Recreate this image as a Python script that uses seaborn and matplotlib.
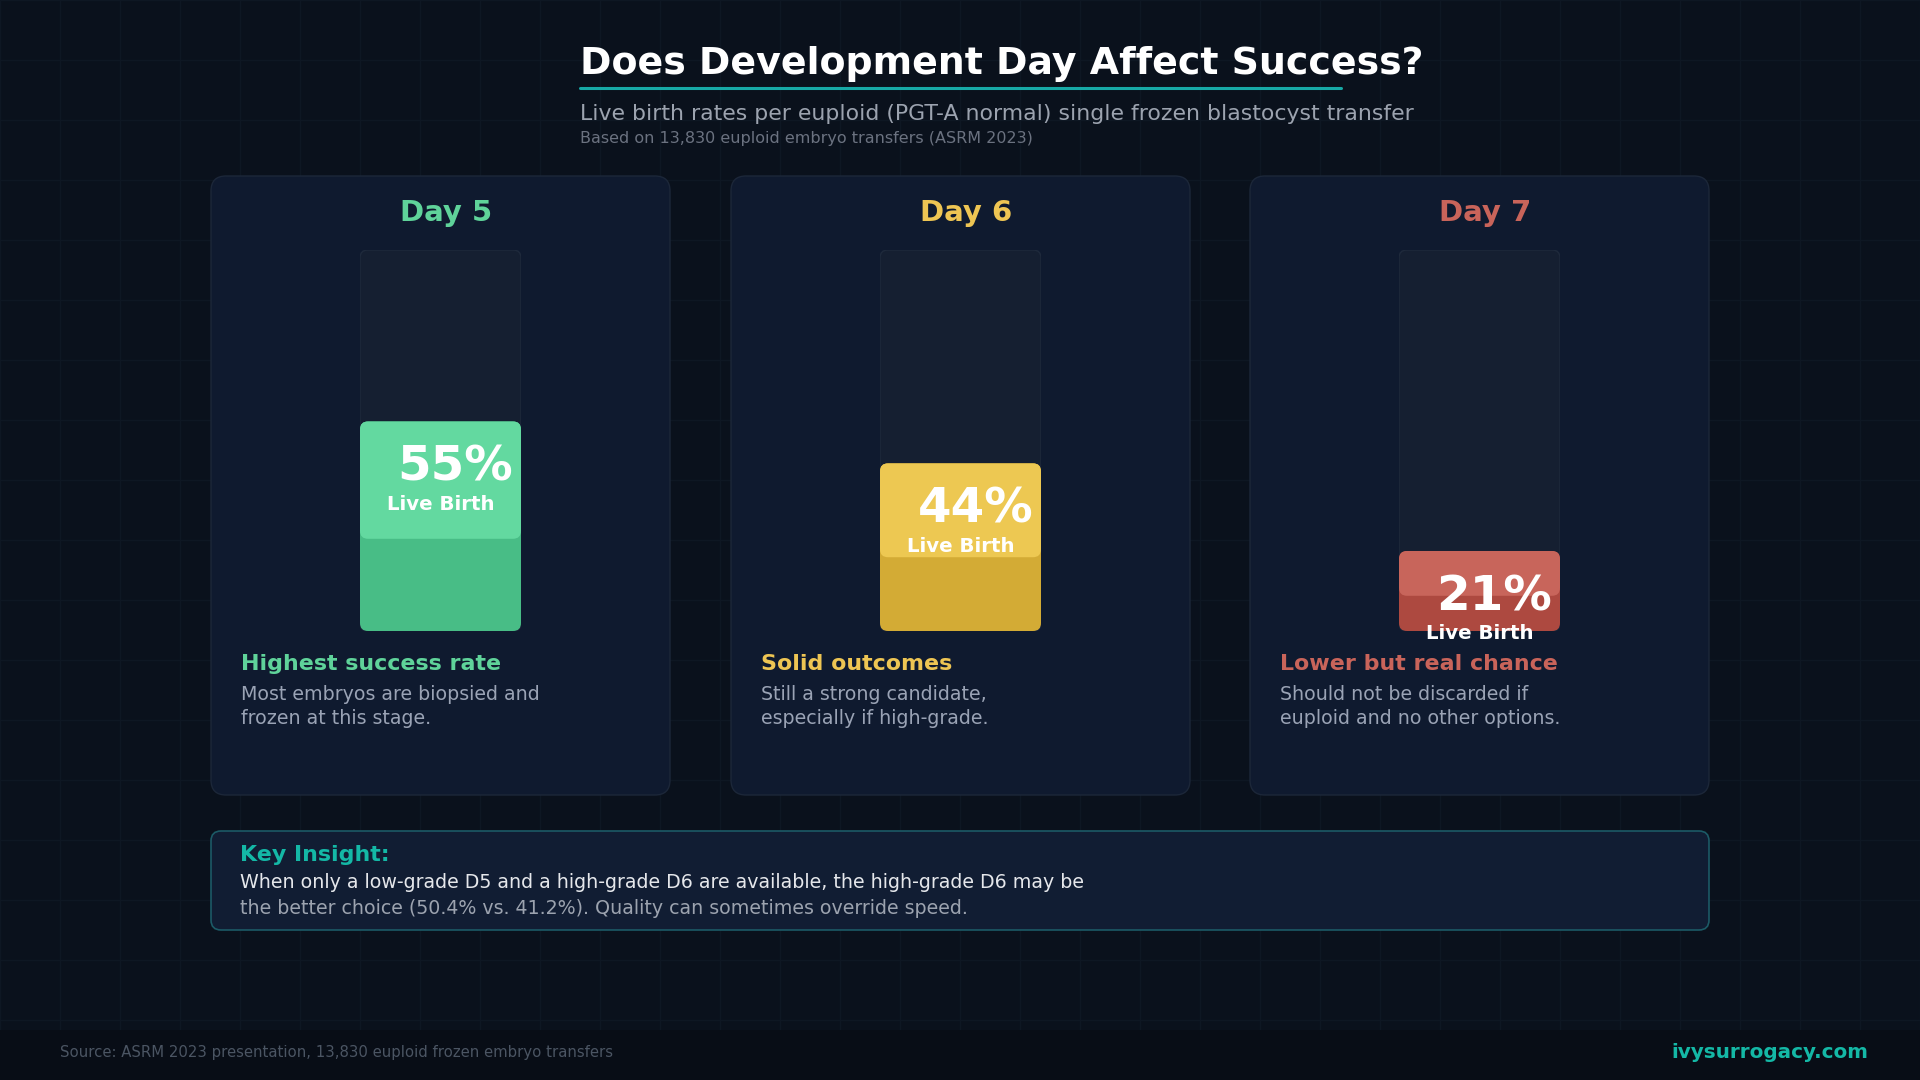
# -*- coding: utf-8 -*-
"""Live birth rate by blastocyst development day - dark card layout."""
import matplotlib
matplotlib.use("Agg")
import matplotlib.pyplot as plt
from matplotlib.patches import FancyBboxPatch, Rectangle
import seaborn as sns

sns.set_theme(style="white")
plt.rcParams["font.family"] = ["DejaVu Sans"]

# ---------- data ----------
days = ["Day 5", "Day 6", "Day 7"]
rates = [55, 44, 21]
headlines = ["Highest success rate", "Solid outcomes", "Lower but real chance"]
descriptions = [
    ["Most embryos are biopsied and", "frozen at this stage."],
    ["Still a strong candidate,", "especially if high-grade."],
    ["Should not be discarded if", "euploid and no other options."],
]
title = "Does Development Day Affect Success?"
subtitle = "Live birth rates per euploid (PGT-A normal) single frozen blastocyst transfer"
note = "Based on 13,830 euploid embryo transfers (ASRM 2023)"
insight_head = "Key Insight:"
insight_lines = [
    "When only a low-grade D5 and a high-grade D6 are available, the high-grade D6 may be",
    "the better choice (50.4% vs. 41.2%). Quality can sometimes override speed.",
]
source = "Source: ASRM 2023 presentation, 13,830 euploid frozen embryo transfers"
brand = "ivysurrogacy.com"

# ---------- style ----------
BG = "#0a111c"
GRID = "#0e1723"
CARD = "#0f1a2f"
CARD_EDGE = "#1c2739"
TRACK = "#151f31"
TRACK_EDGE = "#1f2a3c"
TEAL = "#14b8a6"
light_cols = ["#63d9a0", "#edc852", "#c8655b"]
dark_cols = ["#48bd86", "#d3ab35", "#ad4940"]
title_cols = ["#5fd39a", "#eec553", "#c9645a"]
LIGHT_FRAC = 0.56

W, H = 1920, 1080
fig = plt.figure(figsize=(19.2, 10.8), dpi=100, facecolor=BG)
bg = fig.add_axes([0, 0, 1, 1])
bg.set_xlim(0, W); bg.set_ylim(H, 0); bg.axis("off")
bg.set_facecolor(BG)

# background grid + footer band
for gx in range(0, W + 1, 60):
    bg.plot([gx, gx], [0, 1030], color=GRID, lw=1, zorder=0)
for gy in range(0, 1031, 60):
    bg.plot([0, W], [gy, gy], color=GRID, lw=1, zorder=0)
bg.add_patch(Rectangle((0, 1030), W, 50, facecolor="#080d16", edgecolor="none", zorder=1))

# header
bg.text(580, 64, title, fontsize=27.3, fontweight="bold", color="white", va="center", ha="left")
bg.plot([580, 1341], [88, 88], color="#17a9a6", lw=2.2, solid_capstyle="round")
bg.text(580, 114, subtitle, fontsize=15.8, color="#9ca3af", va="center", ha="left")
bg.text(580, 138, note, fontsize=11.5, color="#6b7280", va="center", ha="left")


def round_bars(ax, rad_px, start=0, edge=None):
    """swap the rectangular bars of ax (from index start) for rounded ones"""
    bb = ax.get_window_extent()
    x0, x1 = ax.get_xlim(); y0, y1 = ax.get_ylim()
    px_x = bb.width / (x1 - x0)
    px_y = bb.height / (y1 - y0)
    for p in list(ax.patches[start:]):
        if not isinstance(p, Rectangle):
            continue
        x, y, w, h = p.get_x(), p.get_y(), p.get_width(), p.get_height()
        fc, z = p.get_facecolor(), p.get_zorder()
        p.remove()
        ax.add_patch(FancyBboxPatch(
            (x, y), w, h,
            boxstyle=f"round,pad=0,rounding_size={rad_px / px_x}",
            mutation_aspect=px_x / px_y,
            facecolor=fc, edgecolor=edge if edge else "none", lw=1, zorder=z))


card_x = [211, 731, 1250]
card_w, card_top, card_bot = 459, 176, 795
track_dx, track_w, track_top, track_bot = 149, 161, 250, 631

for i, day in enumerate(days):
    cx = card_x[i]
    bg.add_patch(FancyBboxPatch((cx, card_top), card_w, card_bot - card_top,
                                boxstyle="round,pad=0,rounding_size=15",
                                facecolor=CARD, edgecolor=CARD_EDGE, lw=1, zorder=2))
    bg.text(cx + card_w / 2 + 6, 213, day, fontsize=21, fontweight="bold",
            color=title_cols[i], ha="center", va="center", zorder=3)
    bg.text(cx + 30, 664, headlines[i], fontsize=15.9, fontweight="bold",
            color=title_cols[i], ha="left", va="center", zorder=3)
    for j, line in enumerate(descriptions[i]):
        bg.text(cx + 30, 694 + 25 * j, line, fontsize=13.7, color="#9aa3b5",
                ha="left", va="center", zorder=3)

    # bar axes, 0-100 scale mapped onto the track
    ax = fig.add_axes([(cx + track_dx) / W, 1 - track_bot / H, track_w / W,
                       (track_bot - track_top) / H])
    ax.set_xlim(-0.5, 0.5); ax.set_ylim(0, 100)
    ax.axis("off"); ax.patch.set_alpha(0)

    ax.bar(0, 100, width=1, color=TRACK, zorder=1)
    round_bars(ax, 8, edge=TRACK_EDGE)
    n = len(ax.patches)
    sns.barplot(x=[day], y=[rates[i]], color=dark_cols[i], width=1, saturation=1,
                ax=ax, zorder=2)
    ax.bar(0, rates[i] * LIGHT_FRAC, bottom=rates[i] * (1 - LIGHT_FRAC), width=1,
           color=light_cols[i], zorder=3)
    ax.set_xlim(-0.5, 0.5); ax.set_ylim(0, 100); ax.axis("off")
    round_bars(ax, 8, start=n)

    ax.annotate(f"{rates[i]}%", xy=(0, rates[i]), xytext=(15 * 0.72, -46 * 0.72),
                textcoords="offset points", ha="center", va="center",
                fontsize=34.8, fontweight="bold", color="white", zorder=5,
                annotation_clip=False)
    ax.annotate("Live Birth", xy=(0, rates[i]), xytext=(0, -83 * 0.72),
                textcoords="offset points", ha="center", va="center",
                fontsize=14.2, fontweight="bold", color="white", zorder=5,
                annotation_clip=False)

# key insight box
bg.add_patch(FancyBboxPatch((211, 831), 1498, 99, boxstyle="round,pad=0,rounding_size=10",
                            facecolor="#111d33", edgecolor="#1c5a66", lw=1.2, zorder=2))
bg.text(240, 855, insight_head, fontsize=15.9, fontweight="bold", color=TEAL,
        ha="left", va="center", zorder=3)
bg.text(240, 883, insight_lines[0], fontsize=13.7, color="#e5e7eb", ha="left", va="center", zorder=3)
bg.text(240, 908, insight_lines[1], fontsize=13.7, color="#9ca3af", ha="left", va="center", zorder=3)

# footer
bg.text(60, 1053, source, fontsize=10.75, color="#4b5563", ha="left", va="center", zorder=3)
bg.text(1868, 1053, brand, fontsize=14.4, fontweight="bold", color=TEAL,
        ha="right", va="center", zorder=3)

fig.savefig("out.png", dpi=100, facecolor=BG)
